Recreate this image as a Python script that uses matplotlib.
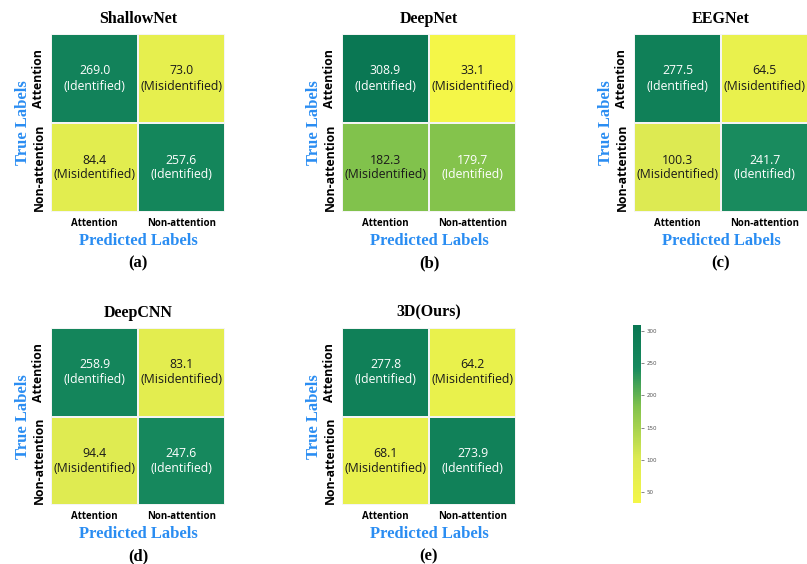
import numpy as np
import matplotlib
matplotlib.use('Agg')
import matplotlib.pyplot as plt
from matplotlib.colors import LinearSegmentedColormap, Normalize

# confusion matrices (rows: true, cols: predicted)
models = ['ShallowNet', 'DeepNet', 'EEGNet', 'DeepCNN', '3D(Ours)']
panel_tags = ['(a)', '(b)', '(c)', '(d)', '(e)']
classes = ['Attention', 'Non-attention']
shallownet = [[269.0, 73.0], [84.4, 257.6]]
deepnet = [[308.9, 33.1], [182.3, 179.7]]
eegnet = [[277.5, 64.5], [100.3, 241.7]]
deepcnn = [[258.9, 83.1], [94.4, 247.6]]
ours = [[277.8, 64.2], [68.1, 273.9]]
matrices = [shallownet, deepnet, eegnet, deepcnn, ours]
cbar_ticks = [50, 100, 150, 200, 250, 300]

cmap = LinearSegmentedColormap.from_list(
    'yg', [(0.0, '#f4f648'), (0.25, '#dcea52'), (0.54, '#82c24c'),
           (0.76, '#178a5e'), (1.0, '#0a7753')])
norm = Normalize(vmin=33.1, vmax=308.9)

serif = 'Liberation Serif'
sans = 'Open Sans'
blue = '#2a8df2'

fig = plt.figure(figsize=(8.07, 5.64), dpi=100)

W = 174 / 807
H1 = 178 / 564
boxes = [
    (51 / 807, 1 - 212 / 564, W, H1),
    (342 / 807, 1 - 212 / 564, W, H1),
    (634 / 807, 1 - 212 / 564, W, H1),
    (51 / 807, 1 - 505 / 564, W, 177 / 564),
    (342 / 807, 1 - 505 / 564, W, 177 / 564),
]

for mat, name, tag, box in zip(matrices, models, panel_tags, boxes):
    ax = fig.add_axes(box)
    m = np.array(mat)
    ax.pcolormesh(m, cmap=cmap, norm=norm, edgecolors='#f4f4f4', linewidth=0.35)
    ax.set_xlim(0, 2)
    ax.set_ylim(2, 0)
    for i in range(2):
        for j in range(2):
            ident = (i == j)
            txt = f'{m[i, j]:.1f}\n' + ('(Identified)' if ident else '(Misidentified)')
            ax.text(j + 0.5, i + 0.5, txt, ha='center', va='center',
                    fontsize=8.8, family=sans, linespacing=1.2,
                    color='white' if ident else '#1a1a1a')
    ax.set_xticks([0.5, 1.5])
    ax.set_xticklabels(classes, fontsize=7, family=sans, fontweight='bold')
    ax.set_yticks([0.5, 1.5])
    ax.set_yticklabels(classes, fontsize=8.8, family=sans, fontweight='bold',
                       rotation=90, va='center')
    ax.tick_params(length=0, pad=4)
    for s in ax.spines.values():
        s.set_visible(False)
    ax.set_title(name, fontsize=11.5, family=serif, fontweight='bold', pad=8)
    ax.set_xlabel('Predicted Labels', fontsize=12, family=serif,
                  fontweight='bold', color=blue, labelpad=3)
    ax.set_ylabel('True Labels', fontsize=12, family=serif,
                  fontweight='bold', color=blue, labelpad=1)
    ax.text(0.5, -0.29, tag, transform=ax.transAxes, ha='center', va='center',
            fontsize=12, family=serif, fontweight='bold')

# colorbar
cax = fig.add_axes((633 / 807, 1 - 503 / 564, 8 / 807, 178 / 564))
sm = plt.cm.ScalarMappable(norm=norm, cmap=cmap)
cb = fig.colorbar(sm, cax=cax, ticks=cbar_ticks)
cb.outline.set_visible(False)
cb.ax.tick_params(labelsize=4, length=2, width=0.5, colors='#555555', pad=2)

fig.savefig('out.png', dpi=100)
